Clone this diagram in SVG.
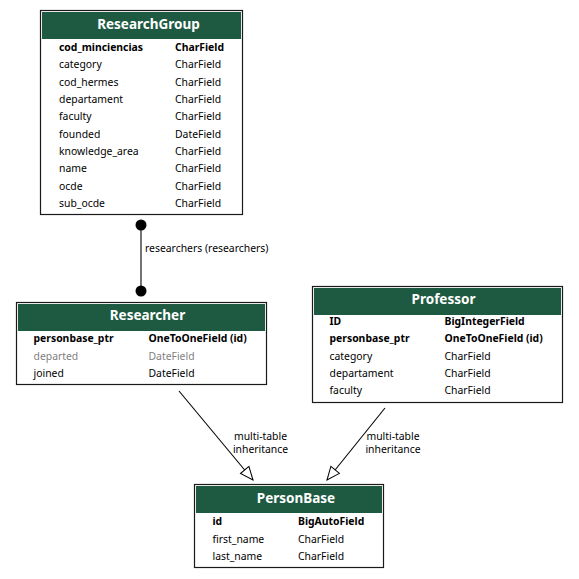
<svg xmlns="http://www.w3.org/2000/svg" width="579" height="579" viewBox="0 0 579 579">
  <defs>
    <style>
      .box { fill: #ffffff; stroke: #1a1a1a; stroke-width: 1.2; }
      .hdr { fill: #1e5a41; }
      .title { font-family: "Noto Sans", "Open Sans", sans-serif; font-size: 13.5px; font-weight: bold; fill: #ffffff; text-anchor: middle; }
      .f { font-family: "Noto Sans", "Open Sans", sans-serif; font-size: 10.4px; fill: #000000; }
      .b { font-weight: bold; }
      .g { fill: #7f7f7f; }
      .edge { stroke: #000000; stroke-width: 1.1; fill: none; }
      .lbl { font-family: "Noto Sans", "Open Sans", sans-serif; font-size: 10.4px; fill: #000000; text-anchor: middle; }
    </style>
    <marker id="inherit" markerWidth="16" markerHeight="14" refX="14" refY="7" orient="auto" markerUnits="userSpaceOnUse">
      <path d="M1,1.5 L14,7 L1,12.5 Z" fill="#ffffff" stroke="#000000" stroke-width="1"/>
    </marker>
  </defs>
  <rect width="579" height="579" fill="#ffffff"/>

  <g id="connectors">
    <!-- ResearchGroup <-> Researcher -->
    <line class="edge" x1="141" y1="225" x2="141" y2="291"/>
    <circle cx="141" cy="225" r="5.5" fill="#000000"/>
    <circle cx="141" cy="291" r="5.5" fill="#000000"/>
    <text class="f" x="145" y="251.5">researchers (researchers)</text>
    <!-- Researcher -> PersonBase -->
    <line class="edge" x1="179" y1="391" x2="253" y2="480" marker-end="url(#inherit)"/>
    <text class="lbl" x="260.5" y="440">multi-table</text>
    <text class="lbl" x="260.5" y="453">inheritance</text>
    <!-- Professor -> PersonBase -->
    <line class="edge" x1="385" y1="408" x2="327" y2="480" marker-end="url(#inherit)"/>
    <text class="lbl" x="393" y="440">multi-table</text>
    <text class="lbl" x="393" y="453">inheritance</text>
  </g>

  <g id="ResearchGroup">
    <rect class="box" x="40.5" y="10.5" width="202" height="204"/>
    <rect class="hdr" x="42" y="12" width="199" height="27"/>
    <text class="title" x="148.5" y="28.5">ResearchGroup</text>
    <text class="f b" x="59" y="50.5">cod_minciencias</text><text class="f b" x="175" y="50.5">CharField</text>
    <text class="f" x="59" y="68">category</text><text class="f" x="175" y="68">CharField</text>
    <text class="f" x="59" y="85.5">cod_hermes</text><text class="f" x="175" y="85.5">CharField</text>
    <text class="f" x="59" y="102.5">departament</text><text class="f" x="175" y="102.5">CharField</text>
    <text class="f" x="59" y="120">faculty</text><text class="f" x="175" y="120">CharField</text>
    <text class="f" x="59" y="137.5">founded</text><text class="f" x="175" y="137.5">DateField</text>
    <text class="f" x="59" y="155">knowledge_area</text><text class="f" x="175" y="155">CharField</text>
    <text class="f" x="59" y="172">name</text><text class="f" x="175" y="172">CharField</text>
    <text class="f" x="59" y="189.5">ocde</text><text class="f" x="175" y="189.5">CharField</text>
    <text class="f" x="59" y="206.5">sub_ocde</text><text class="f" x="175" y="206.5">CharField</text>
  </g>

  <g id="Researcher">
    <rect class="box" x="16.5" y="302.5" width="250" height="82"/>
    <rect class="hdr" x="18" y="304" width="247" height="27"/>
    <text class="title" x="147.5" y="320">Researcher</text>
    <text class="f b" x="33.5" y="342">personbase_ptr</text><text class="f b" x="148.5" y="342">OneToOneField (id)</text>
    <text class="f g" x="33.5" y="359.5">departed</text><text class="f g" x="148.5" y="359.5">DateField</text>
    <text class="f" x="33.5" y="377">joined</text><text class="f" x="148.5" y="377">DateField</text>
  </g>

  <g id="Professor">
    <rect class="box" x="312.5" y="286.5" width="250" height="116"/>
    <rect class="hdr" x="314" y="288" width="247" height="27"/>
    <text class="title" x="443.5" y="303.5">Professor</text>
    <text class="f b" x="329.5" y="324.5">ID</text><text class="f b" x="444.5" y="324.5">BigIntegerField</text>
    <text class="f b" x="329.5" y="342">personbase_ptr</text><text class="f b" x="444.5" y="342">OneToOneField (id)</text>
    <text class="f" x="329.5" y="359.5">category</text><text class="f" x="444.5" y="359.5">CharField</text>
    <text class="f" x="329.5" y="377">departament</text><text class="f" x="444.5" y="377">CharField</text>
    <text class="f" x="329.5" y="394">faculty</text><text class="f" x="444.5" y="394">CharField</text>
  </g>

  <g id="PersonBase">
    <rect class="box" x="194.5" y="484.5" width="189" height="83"/>
    <rect class="hdr" x="196" y="486" width="186" height="27"/>
    <text class="title" x="296" y="502.5">PersonBase</text>
    <text class="f b" x="212.5" y="524.5">id</text><text class="f b" x="298" y="524.5">BigAutoField</text>
    <text class="f" x="212.5" y="542.5">first_name</text><text class="f" x="298" y="542.5">CharField</text>
    <text class="f" x="212.5" y="560">last_name</text><text class="f" x="298" y="560">CharField</text>
  </g>
</svg>
